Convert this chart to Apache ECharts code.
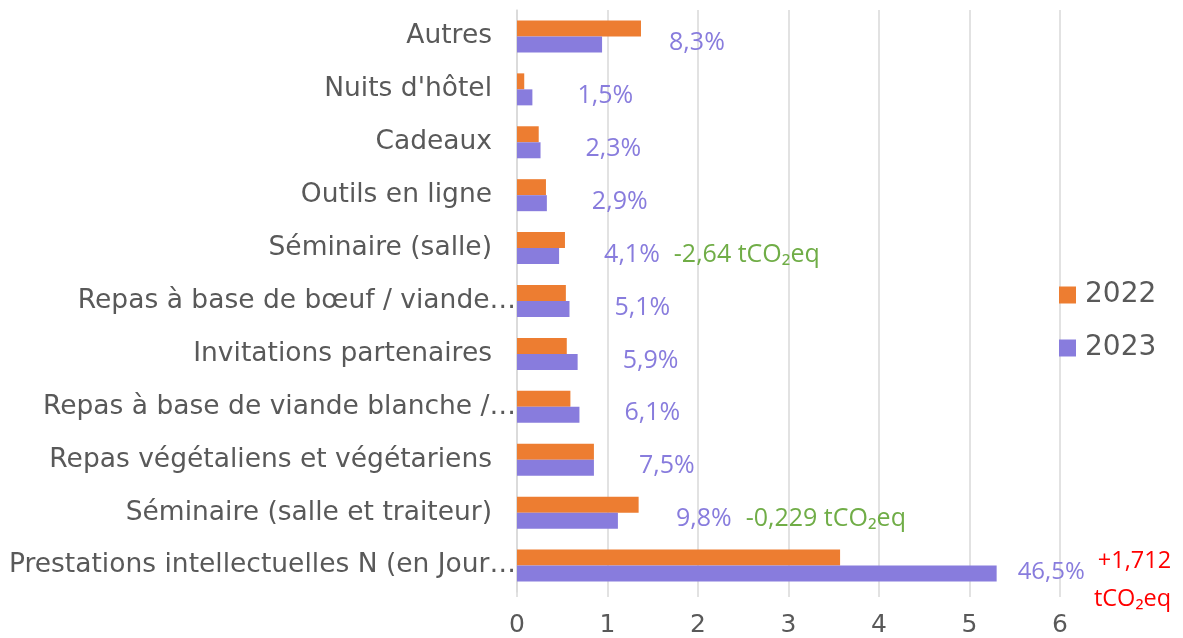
<!DOCTYPE html>
<html>
<head>
<meta charset="utf-8">
<script src="https://cdn.jsdelivr.net/npm/echarts@6/dist/echarts.min.js"></script>
<style>
    html, body {margin: 0; padding: 0; background: #fff;}
    #chart {width: 1183px; height: 638px;}
</style>
</head>
<body>
<div id="chart"></div>
<script>
// categories top to bottom, as they appear
const categories = [
    'Autres',
    "Nuits d'hôtel",
    'Cadeaux',
    'Outils en ligne',
    'Séminaire (salle)',
    'Repas à base de bœuf / viande…',
    'Invitations partenaires',
    'Repas à base de viande blanche /…',
    'Repas végétaliens et végétariens',
    'Séminaire (salle et traiteur)',
    'Prestations intellectuelles N (en Jour…'
];
const values2022 = [1.37, 0.08, 0.24, 0.32, 0.53, 0.54, 0.55, 0.59, 0.85, 1.344, 3.57];
const values2023 = [0.94, 0.17, 0.26, 0.33, 0.465, 0.58, 0.67, 0.69, 0.85, 1.115, 5.3];
const shares2023 = ['8,3%', '1,5%', '2,3%', '2,9%', '4,1%', '5,1%', '5,9%', '6,1%', '7,5%', '9,8%', '46,5%'];
const deltas = ['', '', '', '', '-2,64 tCO₂eq', '', '', '', '', '-0,229 tCO₂eq', '+1,712 tCO₂eq'];
const xTicks = [0, 1, 2, 3, 4, 5, 6];

const ORANGE = '#ED7D31',
    PURPLE = '#887CDD',
    GREEN = '#70AD47',
    RED = '#FF0000',
    GREY = '#595959',
    LINE = '#D9D9D9';

// how far each share label sits from its bar end
const labelGap = {0: 67, 9: 58, 10: 21};

let chart = echarts.init(document.getElementById('chart'));

let data2023 = values2023.map(function (v, i) {
    let delta = deltas[i],
        text = '{p|' + shares2023[i] + '}';
    let label = {distance: labelGap[i] || 45};
    if (delta && delta.charAt(0) === '+') {
        let parts = delta.split(' ');
        label.formatter = '{pp|' + shares2023[i] + '}{r|' + parts[0] + '}\n{r2|' + parts[1] + '}';
        label.offset = [0, 8];
    } else if (delta) {
        label.formatter = text + '{g|' + delta + '}';
    } else {
        label.formatter = text;
    }
    return {value: v, label: label};
});

let labelFont = '"Open Sans", sans-serif',
    axisFont = '"DejaVu Sans", sans-serif';

let option = {
    animation: false,
    backgroundColor: '#fff',
    grid: {left: 517, right: 123, top: 10, bottom: 45, containLabel: false},
    legend: {
        orient: 'vertical',
        left: 1054,
        top: 274,
        itemWidth: 17,
        itemHeight: 17,
        itemGap: 21,
        icon: 'rect',
        textStyle: {
            fontFamily: axisFont,
            fontSize: 28,
            color: GREY,
            lineHeight: 32,
            padding: [0, 0, 0, 4]
        },
        data: ['2022', '2023']
    },
    xAxis: {
        type: 'value',
        min: xTicks[0],
        max: xTicks[xTicks.length - 1],
        interval: 1,
        axisLine: {show: false},
        axisTick: {show: true, length: 5, lineStyle: {color: LINE, width: 1.5}},
        splitLine: {show: true, lineStyle: {color: LINE, width: 1.5}},
        axisLabel: {
            margin: 21,
            fontFamily: axisFont,
            fontSize: 25,
            color: GREY
        }
    },
    yAxis: {
        type: 'category',
        inverse: true,
        data: categories,
        axisLine: {show: true, lineStyle: {color: LINE, width: 1.5}},
        axisTick: {show: false},
        axisLabel: {
            margin: 0,
            formatter: function (v) {
                // Excel-style clipped names run right up to the axis
                return v.slice(-1) === '…' ? '{t|' + v + '}' : '{n|' + v + '}';
            },
            rich: {
                n: {padding: [0, 25, 0, 0], fontFamily: axisFont, fontSize: 26.5, color: GREY},
                t: {padding: [0, 1, 0, 0], fontFamily: axisFont, fontSize: 26.5, color: GREY}
            }
        }
    },
    series: [
        {
            name: '2022',
            type: 'bar',
            barWidth: 16,
            barGap: '0%',
            itemStyle: {color: ORANGE},
            data: values2022
        },
        {
            name: '2023',
            type: 'bar',
            barWidth: 16,
            barGap: '0%',
            itemStyle: {color: PURPLE},
            label: {
                show: true,
                position: 'right',
                rich: {
                    p: {fontFamily: labelFont, fontSize: 25, color: PURPLE, padding: [0, 0, 3, 0]},
                    pp: {fontFamily: labelFont, fontSize: 24, color: PURPLE, padding: [11, 13, 0, 0], verticalAlign: 'top'},
                    g: {fontFamily: labelFont, fontSize: 25, color: GREEN, padding: [0, 0, 3, 14]},
                    r: {fontFamily: labelFont, fontSize: 23.5, color: RED, align: 'right', verticalAlign: 'top'},
                    r2: {fontFamily: labelFont, fontSize: 23.5, color: RED, align: 'right', lineHeight: 30}
                }
            },
            data: data2023
        }
    ]
};

chart.setOption(option);
</script>
</body>
</html>
